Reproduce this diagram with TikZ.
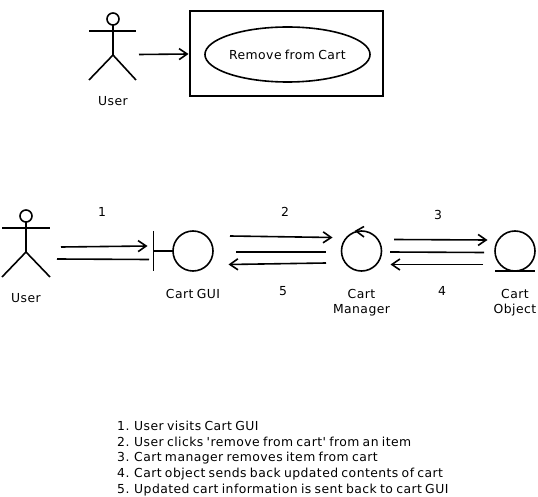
\documentclass[tikz,border=0pt]{standalone}
\usepackage{fontspec}
\setmainfont{DejaVu Sans}[Ligatures=TeXOff,LetterSpace=3.5,WordSpace=0.75]
\usetikzlibrary{arrows.meta,shapes.geometric}
\tikzset{
  px/.style={x=1pt,y=-1pt},
  ln/.style={draw=black,line width=1.6pt},
  arr/.style={ln,-{Straight Barb[length=8pt,width=11pt,line width=1.6pt]}},
  lab/.style={font=\fontsize{12.4pt}{14pt}\selectfont,inner sep=0pt,text=black},
  listitem/.style={lab,anchor=west},
  circ/.style={ln,circle,minimum size=40pt,inner sep=0pt,outer sep=0pt},
  head/.style={ln,circle,minimum size=12pt,inner sep=0pt,outer sep=0pt},
}
\begin{document}
\begin{tikzpicture}[px]
\useasboundingbox (0,0) rectangle (538,497);
% top use case
\node[ln,rectangle,minimum width=193pt,minimum height=85pt,inner sep=0pt,outer sep=0pt] (box) at (286.5,53.5) {};
\node[ln,ellipse,minimum width=165pt,minimum height=55pt,lab,outer sep=0pt] (uc) at (287.5,54.5) {Remove from Cart};
% top actor
\node[head] (h1) at (113,19) {};
\coordinate (h1hip) at (113,55);
\coordinate (h1la) at (89,31);
\coordinate (h1ra) at (136,31);
\coordinate (h1ll) at (89,80);
\coordinate (h1rl) at (136,80);
\draw[ln] (h1) -- (h1hip) -- (h1ll);
\draw[ln] (h1hip) -- (h1rl);
\draw[ln] (h1la) -- (h1ra);
\node[lab] (u1) at (113,101) {User};
\coordinate (a0s) at (139,54.5);
\coordinate (a0e) at (188.5,54);
\draw[arr] (a0s) -- (a0e);
% bottom actor
\node[head] (h2) at (26,216) {};
\coordinate (h2hip) at (26,252);
\coordinate (h2la) at (2,228);
\coordinate (h2ra) at (50,228);
\coordinate (h2ll) at (2,277);
\coordinate (h2rl) at (50,277);
\draw[ln] (h2) -- (h2hip) -- (h2ll);
\draw[ln] (h2hip) -- (h2rl);
\draw[ln] (h2la) -- (h2ra);
\node[lab] (u2) at (26,298) {User};
% boundary
\node[circ] (gui) at (193,251) {};
\coordinate (bt) at (153.5,231);
\coordinate (bb) at (153.5,271);
\coordinate (bm) at (153.5,251);
\draw[ln] (bt) -- (bb);
\draw[ln] (bm) -- (gui.west);
\node[lab] (guil) at (193,294) {Cart GUI};
% control
\node[circ] (mgr) at (361.5,251) {};
\coordinate (c1) at (364,226.5);
\coordinate (c2) at (356,231);
\coordinate (c3) at (364,237);
\draw[ln] (c1) -- (c2) -- (c3);
\node[lab] (mgr1) at (361.5,294) {Cart};
\node[lab] (mgr2) at (361.5,310) {Manager};
% entity
\node[circ] (obj) at (515,251) {};
\coordinate (o1) at (495,271);
\coordinate (o2) at (535,271);
\draw[ln] (o1) -- (o2);
\node[lab] (obj1) at (515,294) {Cart};
\node[lab] (obj2) at (515,310) {Object};
% connectors
\coordinate (a1s) at (61,247);
\coordinate (a1e) at (147.5,246);
\coordinate (l1s) at (57,259);
\coordinate (l1e) at (149,259.5);
\coordinate (a2s) at (230,236);
\coordinate (a2e) at (332.5,237.5);
\coordinate (l2s) at (236,252);
\coordinate (l2e) at (326,252);
\coordinate (a5s) at (326,263);
\coordinate (a5e) at (228.5,264.5);
\coordinate (a3s) at (394,239.5);
\coordinate (a3e) at (487.5,240);
\coordinate (l3s) at (390,252);
\coordinate (l3e) at (484,252.5);
\coordinate (a4s) at (483,264.5);
\coordinate (a4e) at (390.5,264.5);
\draw[arr] (a1s) -- (a1e);
\draw[ln] (l1s) -- (l1e);
\draw[arr] (a2s) -- (a2e);
\draw[ln] (l2s) -- (l2e);
\draw[arr] (a5s) -- (a5e);
\draw[arr] (a3s) -- (a3e);
\draw[ln] (l3s) -- (l3e);
\draw[arr] (a4s) -- (a4e);
% numbers
\node[lab] (n1) at (102,212) {1};
\node[lab] (n2) at (285,212) {2};
\node[lab] (n3) at (438,215) {3};
\node[lab] (n4) at (442,291) {4};
\node[lab] (n5) at (283,291) {5};
% list
\node[listitem] (t1) at (117,426) {1. User visits Cart GUI};
\node[listitem] (t2) at (117,442) {2. User clicks 'remove from cart' from an item};
\node[listitem] (t3) at (117,458) {3. Cart manager removes item from cart};
\node[listitem] (t4) at (117,474) {4. Cart object sends back updated contents of cart};
\node[listitem] (t5) at (117,490) {5. Updated cart information is sent back to cart GUI};
\end{tikzpicture}
\end{document}
